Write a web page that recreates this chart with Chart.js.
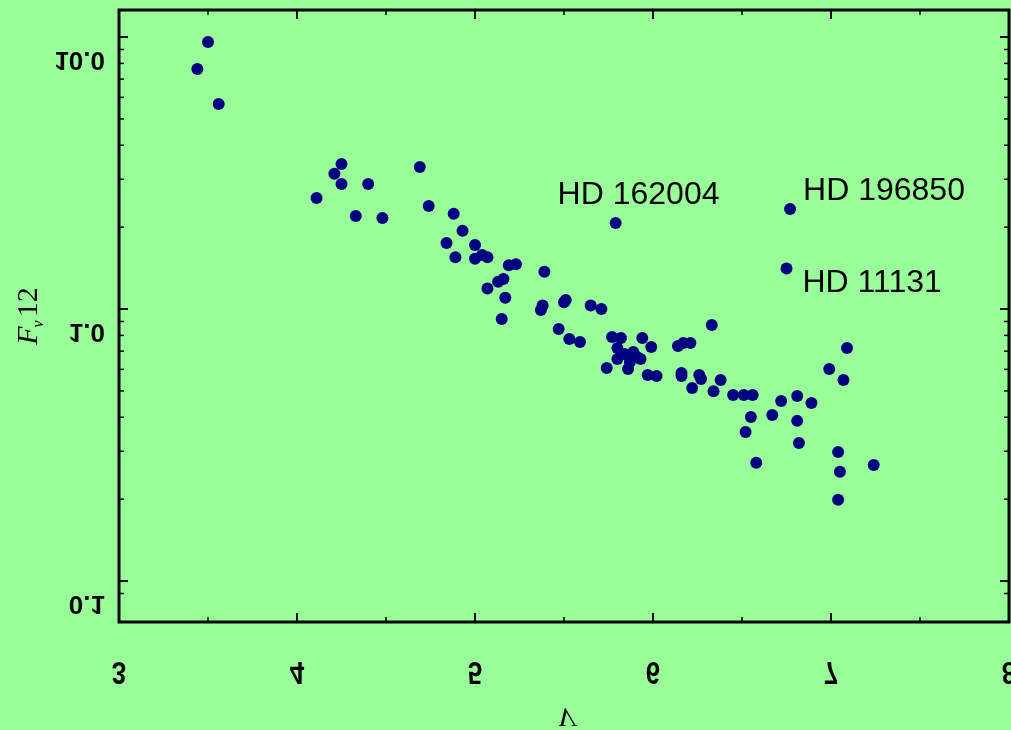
<!DOCTYPE html>
<html><head><meta charset="utf-8">
<script src="https://cdn.jsdelivr.net/npm/chart.js@4"></script>
<style>html,body{margin:0;padding:0;background:#99ff99;overflow:hidden;}</style>
</head><body>
<canvas id="c" width="1011" height="730"></canvas>
<script>
// ---- data ----
const vMag = [3.50,3.44,3.56,4.11,4.21,4.25,4.25,4.33,4.40,4.48,
  4.69,4.74,4.88,4.93,4.84,4.89,5.00,5.00,5.04,5.07,
  5.07,5.13,5.16,5.17,5.15,5.19,5.23,5.39,5.37,5.38,
  5.50,5.51,5.47,5.53,5.59,5.65,5.71,5.79,5.74,5.77,
  5.80,5.82,5.80,5.84,5.86,5.87,5.89,5.91,5.94,5.93,
  5.97,5.99,6.02,6.14,6.17,6.21,6.16,6.16,6.22,6.26,
  6.27,6.33,6.34,6.38,6.45,6.51,6.56,6.52,6.55,6.58,
  6.67,6.72,6.75,6.77,6.81,6.81,6.82,6.89,6.99,7.04,
  7.05,7.04,7.07,7.09,7.24];
const f12 = [9.59,7.63,5.67,2.56,3.14,3.41,2.88,2.20,2.88,2.16,
  3.33,2.39,2.24,1.94,1.75,1.55,1.72,1.53,1.58,1.55,
  1.19,1.26,1.29,1.10,0.919,1.45,1.46,1.37,0.992,1.03,
  1.06,1.08,0.844,0.776,0.757,1.03,1.00,2.07,0.607,0.789,
  0.719,0.782,0.655,0.683,0.602,0.638,0.695,0.666,0.782,0.655,
  0.572,0.725,0.567,0.731,0.750,0.750,0.582,0.567,0.512,0.572,
  0.553,0.873,0.499,0.548,0.483,0.483,0.483,0.353,0.401,0.272,
  0.408,0.459,1.41,2.33,0.479,0.388,0.322,0.451,0.602,0.298,
  0.252,0.199,0.548,0.719,0.267];
const xTicksMajor = [3,4,5,6,7,8];
const xTickLabels = ['3','4','5','6','7','8'];
const xTicksMinor = [3.5,4.5,5.5,6.5,7.5];
const yTicksMajor = [10,1,0.1];
const yTickLabels = ['10.0','1.0','0.1'];
const yTicksMinor = [9,8,7,6,5,4,3,2,0.9,0.8,0.7,0.6,0.5,0.4,0.3,0.2,0.09];
const starNames = ['HD 162004','HD 196850','HD 11131'];
const starIndex = [37,73,72];
const xRange = [3,8];
const yRange = [0.0707,12.57];

// ---- styling / placement ----
const labelOffsets = [[-58,-19],[13,-9],[16,24]];

const decor = {
  id:'decor',
  beforeDraw(chart){
    const c=chart.ctx; c.save(); c.fillStyle='#99ff99'; c.fillRect(0,0,chart.width,chart.height); c.restore();
  },
  afterDraw(chart){
    const c=chart.ctx, a=chart.chartArea, xs=chart.scales.x, ys=chart.scales.y;
    c.save();
    c.strokeStyle='#000'; c.fillStyle='#000';
    const line=(x1,y1,x2,y2,w)=>{c.lineWidth=w;c.beginPath();c.moveTo(x1,y1);c.lineTo(x2,y2);c.stroke();};
    xTicksMajor.forEach(v=>{const p=xs.getPixelForValue(v);line(p,a.bottom,p,a.bottom-9,2);line(p,a.top,p,a.top+9,2);});
    xTicksMinor.forEach(v=>{const p=xs.getPixelForValue(v);line(p,a.bottom,p,a.bottom-5,1.5);line(p,a.top,p,a.top+5,1.5);});
    yTicksMajor.forEach(v=>{const p=ys.getPixelForValue(v);line(a.left,p,a.left+9,p,2);line(a.right,p,a.right-9,p,2);});
    yTicksMinor.forEach(v=>{const p=ys.getPixelForValue(v);line(a.left,p,a.left+5,p,1.5);line(a.right,p,a.right-5,p,1.5);});
    c.lineWidth=3; c.strokeRect(a.left,a.top,a.right-a.left,a.bottom-a.top);

    // y tick labels (vertically flipped)
    c.font='bold 26px "Liberation Sans", Arial, sans-serif';
    c.textAlign='right'; c.textBaseline='alphabetic';
    yTicksMajor.forEach((v,i)=>{const p=ys.getPixelForValue(v);c.save();c.translate(105,p+15);c.scale(1,-1);c.fillText(yTickLabels[i],0,0);c.restore();});
    // x tick labels (vertically flipped)
    c.textAlign='center';
    xTicksMajor.forEach((v,i)=>{const p=xs.getPixelForValue(v);c.save();c.translate(p,662);c.scale(1,-1.2);c.fillText(xTickLabels[i],0,0);c.restore();});
    // x title
    c.save(); c.translate((a.left+a.right)/2+2,708); c.scale(1,-1);
    c.font='italic 28px "Liberation Serif", "Times New Roman", serif'; c.textAlign='center'; c.fillText('V',0,0); c.restore();
    // y title
    c.save(); c.translate(37,(a.top+a.bottom)/2); c.rotate(-Math.PI/2); c.textAlign='left';
    const fF='italic 30px "Liberation Serif", serif', fS='italic 16px "Liberation Serif", serif', fN='30px "Liberation Serif", serif';
    c.font=fF; const wF=c.measureText('F').width;
    c.font=fS; const wS=c.measureText('\u03BD').width;
    c.font=fN; const wN=c.measureText('12').width;
    let s=-(wF+wS+wN+2)/2;
    c.font=fF; c.fillText('F',s,0);
    c.font=fS; c.fillText('\u03BD',s+wF-1,6);
    c.font=fN; c.fillText('12',s+wF+wS+2,0);
    c.restore();
    // star annotations
    c.font='32px "Liberation Sans", Arial, sans-serif'; c.textAlign='left'; c.textBaseline='alphabetic';
    starNames.forEach((n,i)=>{const k=starIndex[i];const px=xs.getPixelForValue(vMag[k]);const py=ys.getPixelForValue(f12[k]);
      c.fillText(n,px+labelOffsets[i][0],py+labelOffsets[i][1]);});
    c.restore();
  }
};

new Chart(document.getElementById('c'),{
  type:'scatter',
  data:{datasets:[{data:vMag.map((v,i)=>({x:v,y:f12[i]})),backgroundColor:'#000080',borderColor:'#000080',borderWidth:0,pointRadius:6,pointHoverRadius:6}]},
  options:{
    responsive:false, animation:false, events:[],
    layout:{autoPadding:false,padding:{left:119,right:2,top:10,bottom:108}},
    plugins:{legend:{display:false},tooltip:{enabled:false}},
    scales:{
      x:{type:'linear',min:xRange[0],max:xRange[1],display:false},
      y:{type:'logarithmic',min:yRange[0],max:yRange[1],display:false}
    }
  },
  plugins:[decor]
});
</script>
</body></html>
